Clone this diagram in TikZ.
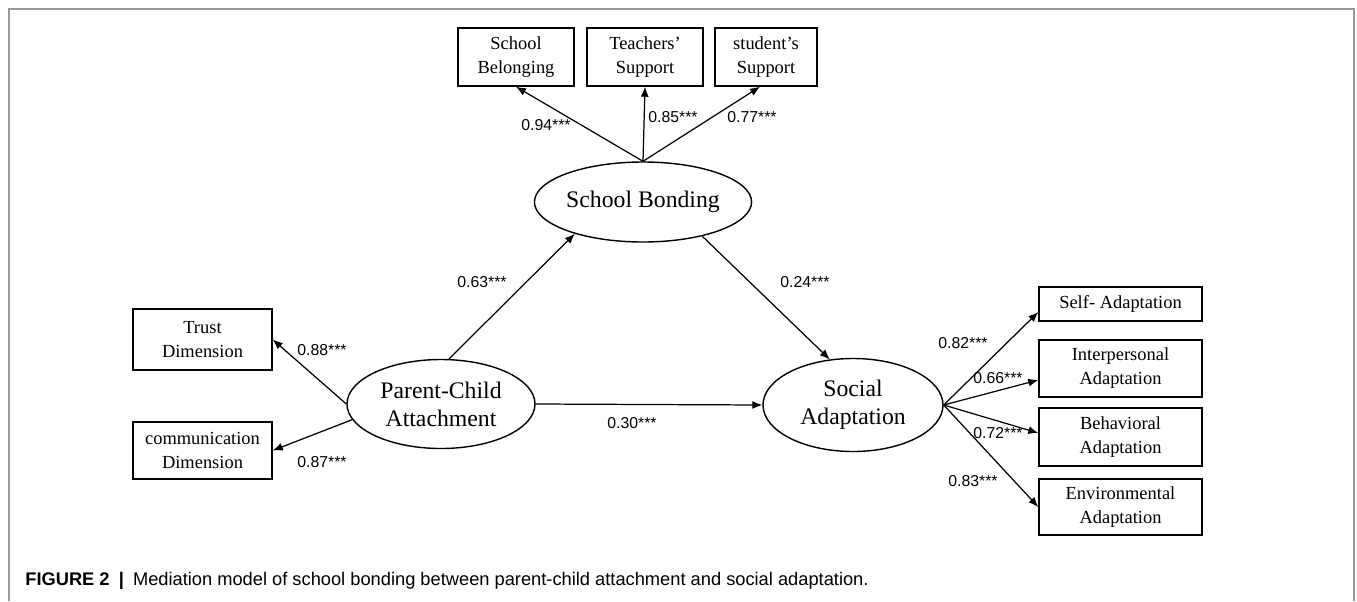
\documentclass[tikz,border=0pt]{standalone}
\usepackage{fontspec}
\setmainfont{Liberation Serif}
\setsansfont{Liberation Sans}
\usepackage{tikz}
\usetikzlibrary{arrows.meta, positioning, shapes.geometric}

\tikzset{
  box/.style={draw, line width=0.8pt, rectangle, align=center, inner sep=0pt,
    font=\fontsize{10.5}{13.6}\selectfont},
  latent/.style={draw, line width=0.8pt, ellipse, align=center, inner sep=0pt,
    font=\fontsize{13.5}{16}\selectfont},
  coef/.style={font=\sffamily\fontsize{9}{10}\selectfont, inner sep=0pt},
  load/.style={line width=0.7pt, -{Latex[length=2mm,width=1.6mm]}}
}

\begin{document}
\begin{tikzpicture}[x=0.2mm, y=-0.2mm]
\useasboundingbox (0,0) rectangle (1357,601);
% frame
\draw[gray!80, line width=0.7pt] (9,601) -- (9,9) -- (1354,9) -- (1354,601);

% School bonding and its indicators
\node[latent, minimum width=39mm, minimum height=16mm] (bond) at (643,202) {School Bonding};
\node[box, minimum width=23.2mm, minimum height=11.6mm] (belong) at (516,57) {School\\Belonging};
\node[box, minimum width=23.2mm, minimum height=11.6mm] (teach) at (645,57) {Teachers'\\Support};
\node[box, minimum width=20.4mm, minimum height=11.6mm] (stud) at (766,57) {student's\\Support};

% Parent-child attachment and its indicators
\node[latent, minimum width=37.6mm, minimum height=17.8mm] (pca) at (441,404) {Parent-Child\\Attachment};
\node[box, minimum width=27.8mm, minimum height=12.2mm] (trust) at (202.5,339.5) {Trust\\Dimension};
\node[box, minimum width=27.8mm, minimum height=11.4mm] (comm) at (202.5,450.5) {communication\\Dimension};

% Social adaptation and its indicators
\node[latent, minimum width=36mm, minimum height=18.6mm] (soc) at (853,405) {Social\\Adaptation};
\node[box, minimum width=32.6mm, minimum height=6.8mm] (self) at (1120.5,304) {Self- Adaptation};
\node[box, minimum width=32.6mm, minimum height=11.4mm] (inter) at (1120.5,368.5) {Interpersonal\\Adaptation};
\node[box, minimum width=32.6mm, minimum height=11.6mm] (behav) at (1120.5,437) {Behavioral\\Adaptation};
\node[box, minimum width=32.6mm, minimum height=11.2mm] (env) at (1120.5,507) {Environmental\\Adaptation};

% paths
\draw[load] (bond.north) -- (belong.south);
\draw[load] (bond.north) -- (teach.south);
\draw[load] (bond.north) -- ([xshift=-1.2mm]stud.south);
\draw[load] (pca.west) -- (trust.east);
\draw[load] (pca.190) -- (comm.east);
\draw[load] (pca.80) -- (bond.205);
\draw[load] (bond.330) -- (soc.117);
\draw[load] (pca.east) -- (soc.west);
\draw[load] (soc.east) -- ([yshift=-1.6mm]self.west);
\draw[load] (soc.east) -- ([yshift=-2.3mm]inter.west);
\draw[load] (soc.east) -- ([yshift=0.8mm]behav.west);
\draw[load] (soc.east) -- (env.west);

% coefficients
\node[coef] (c94) at (546,125) {0.94***};
\node[coef] (c85) at (673,117) {0.85***};
\node[coef] (c77) at (752,117) {0.77***};
\node[coef] (c63) at (482,282) {0.63***};
\node[coef] (c24) at (805,282) {0.24***};
\node[coef] (c30) at (632,423) {0.30***};
\node[coef] (c88) at (322,350) {0.88***};
\node[coef] (c87) at (322,462) {0.87***};
\node[coef] (c82) at (963,343) {0.82***};
\node[coef] (c66) at (998,378) {0.66***};
\node[coef] (c72) at (998,433) {0.72***};
\node[coef] (c83) at (973,481) {0.83***};

% caption
\node[anchor=west, inner sep=0pt, font=\sffamily\fontsize{10.4}{12}\selectfont] (cap) at (25,581)
  {\textbf{FIGURE 2}\enspace\textbf{|}\enspace Mediation model of school bonding between parent-child attachment and social adaptation.};
\end{tikzpicture}
\end{document}
